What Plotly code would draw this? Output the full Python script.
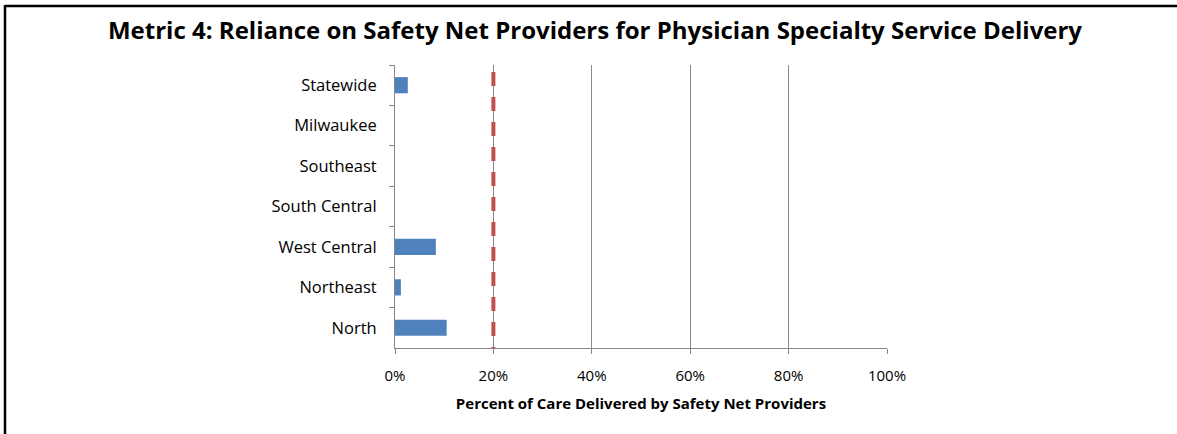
import plotly.graph_objects as go

# Regions listed top to bottom as they appear on the chart
regions = ["Statewide", "Milwaukee", "Southeast", "South Central",
           "West Central", "Northeast", "North"]
pct_safety_net = [2.6, 0.0, 0.0, 0.0, 8.3, 1.2, 10.5]
threshold_pct = 20
x_ticks = [0, 20, 40, 60, 80, 100]
x_tick_labels = [f"{v}%" for v in x_ticks]

W, H = 1177, 434
L, R, T, B = 395, 290, 65, 86
pw, ph = W - L - R, H - T - B

def px_x(p):
    return (p - L) / pw

def px_y(p):
    return (H - B - p) / ph

font = "Open Sans"
fig = go.Figure()
fig.add_trace(go.Bar(
    y=regions, x=pct_safety_net, orientation="h",
    marker=dict(color="#4F81BD", line=dict(width=0)),
    hoverinfo="x+y",
))

fig.update_layout(
    width=W, height=H,
    margin=dict(l=L, r=R, t=T, b=B),
    paper_bgcolor="white", plot_bgcolor="white",
    bargap=0.6,
    showlegend=False,
    font=dict(family=font, color="#000000", size=15),
    title=dict(
        text="<b>Metric 4: Reliance on Safety Net Providers for Physician Specialty Service Delivery</b>",
        x=595 / W, xanchor="center", y=1 - 31 / H, yanchor="middle",
        font=dict(family=font, size=24, color="#000000"),
    ),
    xaxis=dict(
        range=[0, 100], tickmode="array", tickvals=x_ticks, ticktext=x_tick_labels,
        showgrid=True, gridcolor="#878787", gridwidth=1,
        showline=True, linecolor="#878787", linewidth=1,
        ticks="outside", ticklen=5, tickcolor="#878787",
        zeroline=False,
        tickfont=dict(size=15), ticklabelstandoff=9,
        title=dict(text="<b>Percent of Care Delivered by Safety Net Providers</b>",
                   font=dict(size=15), standoff=14),
    ),
    yaxis=dict(
        categoryorder="array", categoryarray=regions, autorange="reversed",
        showline=True, linecolor="#878787", linewidth=1,
        ticks="outside", ticklen=5, tickcolor="#878787",
        tickson="boundaries", showgrid=False,
        tickfont=dict(size=16.5), ticklabelstandoff=14,
    ),
)

# Reference threshold line
fig.add_shape(type="line", xref="x", yref="paper",
              x0=threshold_pct, x1=threshold_pct, y0=1 - 7 / ph, y1=0,
              line=dict(color="#C0504D", width=4, dash="14px,11px"))

# Frame along the top and left edges
fig.add_shape(type="line", xref="paper", yref="paper",
              x0=px_x(5), x1=px_x(W), y0=px_y(6), y1=px_y(6),
              line=dict(color="#000000", width=2.5))
fig.add_shape(type="line", xref="paper", yref="paper",
              x0=px_x(5), x1=px_x(5), y0=px_y(5), y1=px_y(H + 5),
              line=dict(color="#000000", width=2.5))

fig.write_html("out.html")
